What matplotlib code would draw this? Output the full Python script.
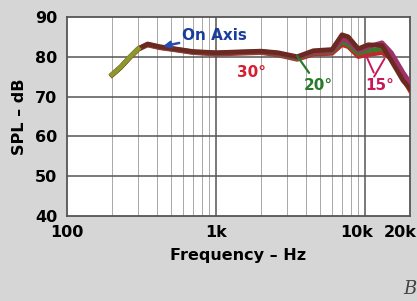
import numpy as np
import matplotlib
matplotlib.use("Agg")
import matplotlib.pyplot as plt
from matplotlib.transforms import ScaledTranslation

# frequency response (Hz, dB)
freq = [200, 230, 265, 300, 347, 420, 525, 700, 1000, 1400, 2000, 2600, 3500,
        4500, 6000, 7000, 7700, 9000, 10500, 13000, 15000, 18000, 20000]
on_axis = [75.5, 77.5, 80.0, 82.0, 83.2, 82.5, 82.0, 81.3, 81.0, 81.2, 81.4, 81.0, 80.0,
           81.5, 81.8, 85.5, 85.0, 82.0, 83.0, 82.8, 79.0, 74.0, 72.0]
deg15 = [75.5, 77.5, 80.0, 82.0, 83.1, 82.4, 81.9, 81.2, 80.9, 81.1, 81.3, 80.8, 79.8,
         81.2, 81.5, 84.5, 84.0, 81.5, 82.5, 83.5, 81.0, 76.0, 73.5]
deg20 = [75.4, 77.4, 79.9, 81.9, 83.0, 82.3, 81.8, 81.1, 80.8, 81.0, 81.2, 80.6, 79.5,
         81.0, 81.2, 83.8, 83.0, 80.8, 81.5, 82.0, 80.5, 75.0, 72.5]
deg30 = [75.3, 77.3, 79.8, 81.8, 82.9, 82.2, 81.7, 81.0, 80.6, 80.8, 81.0, 80.4, 79.3,
         80.6, 80.8, 83.0, 82.5, 80.0, 80.5, 81.0, 79.5, 74.5, 71.5]

xticks = [100, 1000, 10000, 20000]
xticklabels = ["100", "1k", "10k", "20k"]
yticks = [40, 50, 60, 70, 80, 90]

bg = "#d6d6d6"
fig = plt.figure(figsize=(4.17, 3.01), dpi=100, facecolor=bg)
ax = fig.add_axes([0.161, 0.282, 0.822, 0.662])
ax.set_facecolor("white")
ax.set_xscale("log")
ax.set_xlim(100, 20000)
ax.set_ylim(40, 90)

# grid
minors = [f for d in (100, 1000, 10000) for f in np.arange(2, 10) * d if f < 20000]
for f in minors:
    ax.axvline(f, color="#a8a8a8", lw=0.7, zorder=1)
for f in (1000, 10000):
    ax.axvline(f, color="#555555", lw=1.1, zorder=1)
for y in yticks[1:-1]:
    ax.axhline(y, color="#555555", lw=1.1, zorder=1)

# curves
ax.plot(freq, deg30, color="#c0282a", lw=3.2, zorder=3)
ax.plot(freq, deg20, color="#3a7a2a", lw=3.2, zorder=3)
ax.plot(freq, deg15, color="#a0306a", lw=3.4, zorder=3)
ax.plot(freq, on_axis, color="#6a2a20", lw=3.4, zorder=4)
ax.plot(freq[:4], on_axis[:4], color="#8a9a2a", lw=3.4, zorder=5)

for s in ax.spines.values():
    s.set_color("#555555")
    s.set_linewidth(1.3)

ax.set_xticks(xticks)
ax.set_xticklabels(xticklabels)
ax.xaxis.set_minor_locator(matplotlib.ticker.NullLocator())
ax.set_yticks(yticks)
ax.tick_params(length=0, labelsize=11.5)
ax.tick_params(axis="x", pad=6.5)
ax.tick_params(axis="y", pad=7)
for lab in ax.get_xticklabels() + ax.get_yticklabels():
    lab.set_fontweight("bold")
# nudge the right-hand labels so 20k stays inside the figure
shifts = {"10k": -6, "20k": -7}
for lab in ax.get_xticklabels():
    dx = shifts.get(lab.get_text(), 0)
    if dx:
        lab.set_transform(lab.get_transform() + ScaledTranslation(dx / 72, 0, fig.dpi_scale_trans))
ax.set_xlabel("Frequency – Hz", fontsize=11.5, fontweight="bold", labelpad=6)
ax.set_ylabel("SPL – dB", fontsize=11.5, fontweight="bold", labelpad=6)

# annotations
ax.annotate("On Axis", xy=(440, 82.6), xytext=(590, 85.3),
            color="#1a3c9c", fontsize=11, fontweight="bold", va="center",
            arrowprops=dict(arrowstyle="-|>", color="#2a4cb0", lw=1.8,
                            mutation_scale=10, shrinkA=0, shrinkB=0),
            zorder=6)
ax.text(1380, 76.0, "30°", color="#d42030", fontsize=11, fontweight="bold",
        va="center", zorder=6)
ax.annotate("20°", xy=(3500, 80.2), xytext=(3850, 72.8),
            color="#2a7a2a", fontsize=11, fontweight="bold", va="center",
            arrowprops=dict(arrowstyle="-", color="#2a7a2a", lw=1.6,
                            shrinkA=2, shrinkB=0), zorder=6)
ax.annotate("15°", xy=(10100, 80.5), xytext=(10000, 72.8),
            color="#c8185a", fontsize=11, fontweight="bold", va="center",
            arrowprops=dict(arrowstyle="-", color="#c8185a", lw=1.4,
                            shrinkA=2, shrinkB=0), zorder=6)
ax.annotate("", xy=(13500, 79.5), xytext=(11500, 75.0),
            arrowprops=dict(arrowstyle="-", color="#c8185a", lw=1.4,
                            shrinkA=0, shrinkB=0), zorder=6)

fig.text(0.968, 0.01, "B", fontsize=13, style="italic", family="DejaVu Serif",
         color="#444444", ha="left", va="bottom")

fig.savefig("out.png", dpi=100, facecolor=bg)
